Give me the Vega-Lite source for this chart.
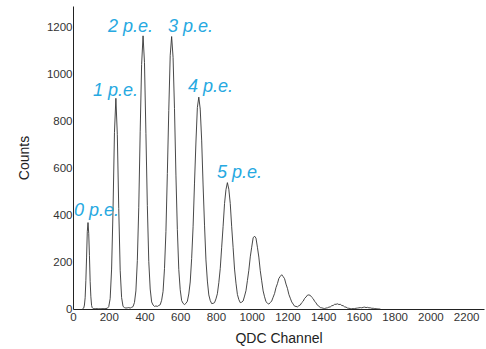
{
  "$schema": "https://vega.github.io/schema/vega-lite/v6.json",
  "autosize": {"type": "none"},
  "padding": {"left": 73, "top": 6, "right": 2, "bottom": 40},
  "width": 411,
  "height": 303,
  "background": "white",
  "config": {
    "view": {"stroke": null},
    "axis": {
      "grid": false,
      "ticks": false,
      "tickSize": 0,
      "domainColor": "#222222",
      "domainWidth": 1,
      "labelFont": "Liberation Sans",
      "labelFontSize": 11.5,
      "labelColor": "#333333",
      "labelOverlap": false,
      "labelSeparation": 0,
      "format": "d",
      "titleFont": "Liberation Sans",
      "titleFontSize": 14,
      "titleFontWeight": "normal",
      "titleColor": "#222222"
    }
  },
  "datasets": {
    "spectrum": [
      {"channel": 52, "counts": 0}, {"channel": 56, "counts": 1}, {"channel": 60, "counts": 4}, {"channel": 64, "counts": 17},
      {"channel": 68, "counts": 48}, {"channel": 72, "counts": 122}, {"channel": 76, "counts": 221}, {"channel": 80, "counts": 329},
      {"channel": 84, "counts": 368}, {"channel": 88, "counts": 322}, {"channel": 92, "counts": 227}, {"channel": 96, "counts": 118},
      {"channel": 100, "counts": 52}, {"channel": 104, "counts": 15}, {"channel": 108, "counts": 5}, {"channel": 112, "counts": 2},
      {"channel": 116, "counts": 1}, {"channel": 120, "counts": 2}, {"channel": 128, "counts": 1}, {"channel": 136, "counts": 2},
      {"channel": 144, "counts": 1}, {"channel": 152, "counts": 1}, {"channel": 160, "counts": 2}, {"channel": 168, "counts": 1},
      {"channel": 176, "counts": 2}, {"channel": 184, "counts": 2}, {"channel": 192, "counts": 3}, {"channel": 200, "counts": 10},
      {"channel": 208, "counts": 44}, {"channel": 216, "counts": 170}, {"channel": 224, "counts": 421}, {"channel": 232, "counts": 752},
      {"channel": 240, "counts": 897}, {"channel": 248, "counts": 742}, {"channel": 256, "counts": 428}, {"channel": 264, "counts": 165},
      {"channel": 272, "counts": 49}, {"channel": 280, "counts": 11}, {"channel": 288, "counts": 6}, {"channel": 296, "counts": 4},
      {"channel": 304, "counts": 5}, {"channel": 312, "counts": 6}, {"channel": 320, "counts": 4}, {"channel": 328, "counts": 7},
      {"channel": 336, "counts": 10}, {"channel": 344, "counts": 28}, {"channel": 352, "counts": 77}, {"channel": 360, "counts": 206},
      {"channel": 368, "counts": 431}, {"channel": 376, "counts": 757}, {"channel": 384, "counts": 1041}, {"channel": 392, "counts": 1163},
      {"channel": 400, "counts": 1050}, {"channel": 408, "counts": 748}, {"channel": 416, "counts": 440}, {"channel": 424, "counts": 203},
      {"channel": 432, "counts": 85}, {"channel": 440, "counts": 30}, {"channel": 448, "counts": 17}, {"channel": 456, "counts": 11},
      {"channel": 464, "counts": 13}, {"channel": 472, "counts": 11}, {"channel": 480, "counts": 15}, {"channel": 488, "counts": 18},
      {"channel": 496, "counts": 37}, {"channel": 504, "counts": 75}, {"channel": 512, "counts": 172}, {"channel": 520, "counts": 330},
      {"channel": 528, "counts": 577}, {"channel": 536, "counts": 845}, {"channel": 544, "counts": 1080}, {"channel": 552, "counts": 1160},
      {"channel": 560, "counts": 1071}, {"channel": 568, "counts": 853}, {"channel": 576, "counts": 570}, {"channel": 584, "counts": 338},
      {"channel": 592, "counts": 168}, {"channel": 600, "counts": 82}, {"channel": 608, "counts": 36}, {"channel": 616, "counts": 24},
      {"channel": 624, "counts": 19}, {"channel": 632, "counts": 24}, {"channel": 640, "counts": 33}, {"channel": 648, "counts": 64},
      {"channel": 656, "counts": 115}, {"channel": 664, "counts": 215}, {"channel": 672, "counts": 350}, {"channel": 680, "counts": 536},
      {"channel": 688, "counts": 711}, {"channel": 696, "counts": 858}, {"channel": 704, "counts": 902}, {"channel": 712, "counts": 851},
      {"channel": 720, "counts": 719}, {"channel": 728, "counts": 528}, {"channel": 736, "counts": 357}, {"channel": 744, "counts": 209},
      {"channel": 752, "counts": 119}, {"channel": 760, "counts": 60}, {"channel": 768, "counts": 36}, {"channel": 776, "counts": 23},
      {"channel": 784, "counts": 24}, {"channel": 792, "counts": 27}, {"channel": 800, "counts": 43}, {"channel": 808, "counts": 65},
      {"channel": 816, "counts": 112}, {"channel": 824, "counts": 172}, {"channel": 832, "counts": 263}, {"channel": 840, "counts": 352},
      {"channel": 848, "counts": 449}, {"channel": 856, "counts": 508}, {"channel": 864, "counts": 538}, {"channel": 872, "counts": 510},
      {"channel": 880, "counts": 449}, {"channel": 888, "counts": 350}, {"channel": 896, "counts": 261}, {"channel": 904, "counts": 170},
      {"channel": 912, "counts": 110}, {"channel": 920, "counts": 62}, {"channel": 928, "counts": 40}, {"channel": 936, "counts": 27},
      {"channel": 944, "counts": 29}, {"channel": 952, "counts": 34}, {"channel": 960, "counts": 55}, {"channel": 968, "counts": 78},
      {"channel": 976, "counts": 121}, {"channel": 984, "counts": 165}, {"channel": 992, "counts": 222}, {"channel": 1000, "counts": 263},
      {"channel": 1008, "counts": 303}, {"channel": 1016, "counts": 310}, {"channel": 1024, "counts": 302}, {"channel": 1032, "counts": 263},
      {"channel": 1040, "counts": 221}, {"channel": 1048, "counts": 163}, {"channel": 1056, "counts": 120}, {"channel": 1064, "counts": 77},
      {"channel": 1072, "counts": 52}, {"channel": 1080, "counts": 31}, {"channel": 1088, "counts": 25}, {"channel": 1096, "counts": 21},
      {"channel": 1104, "counts": 27}, {"channel": 1112, "counts": 34}, {"channel": 1120, "counts": 50}, {"channel": 1128, "counts": 66},
      {"channel": 1136, "counts": 91}, {"channel": 1144, "counts": 108}, {"channel": 1152, "counts": 130}, {"channel": 1160, "counts": 139},
      {"channel": 1168, "counts": 146}, {"channel": 1176, "counts": 138}, {"channel": 1184, "counts": 129}, {"channel": 1192, "counts": 106},
      {"channel": 1200, "counts": 88}, {"channel": 1208, "counts": 62}, {"channel": 1216, "counts": 46}, {"channel": 1224, "counts": 30},
      {"channel": 1232, "counts": 21}, {"channel": 1240, "counts": 12}, {"channel": 1248, "counts": 11}, {"channel": 1256, "counts": 9},
      {"channel": 1264, "counts": 14}, {"channel": 1272, "counts": 17}, {"channel": 1280, "counts": 27}, {"channel": 1288, "counts": 33},
      {"channel": 1296, "counts": 45}, {"channel": 1304, "counts": 51}, {"channel": 1312, "counts": 59}, {"channel": 1320, "counts": 60},
      {"channel": 1328, "counts": 58}, {"channel": 1336, "counts": 50}, {"channel": 1344, "counts": 44}, {"channel": 1352, "counts": 33},
      {"channel": 1360, "counts": 26}, {"channel": 1368, "counts": 16}, {"channel": 1376, "counts": 12}, {"channel": 1384, "counts": 6},
      {"channel": 1392, "counts": 5}, {"channel": 1400, "counts": 3}, {"channel": 1408, "counts": 2}, {"channel": 1416, "counts": 4},
      {"channel": 1424, "counts": 5}, {"channel": 1432, "counts": 8}, {"channel": 1440, "counts": 9}, {"channel": 1448, "counts": 14},
      {"channel": 1456, "counts": 15}, {"channel": 1464, "counts": 20}, {"channel": 1472, "counts": 20}, {"channel": 1480, "counts": 22},
      {"channel": 1488, "counts": 19}, {"channel": 1496, "counts": 20}, {"channel": 1504, "counts": 15}, {"channel": 1512, "counts": 14},
      {"channel": 1520, "counts": 9}, {"channel": 1528, "counts": 8}, {"channel": 1536, "counts": 4}, {"channel": 1544, "counts": 3},
      {"channel": 1552, "counts": 2}, {"channel": 1560, "counts": 1}, {"channel": 1568, "counts": 2}, {"channel": 1576, "counts": 2},
      {"channel": 1584, "counts": 3}, {"channel": 1592, "counts": 4}, {"channel": 1600, "counts": 5}, {"channel": 1608, "counts": 6},
      {"channel": 1616, "counts": 5}, {"channel": 1624, "counts": 7}, {"channel": 1632, "counts": 8}, {"channel": 1640, "counts": 6},
      {"channel": 1648, "counts": 7}, {"channel": 1656, "counts": 5}, {"channel": 1664, "counts": 5}, {"channel": 1672, "counts": 3},
      {"channel": 1680, "counts": 3}, {"channel": 1688, "counts": 2}, {"channel": 1696, "counts": 1}, {"channel": 1704, "counts": 1},
      {"channel": 1712, "counts": 0}, {"channel": 1720, "counts": 0}
    ],
    "labels": [
      {"label": "0 p.e.", "channel": 6, "counts": 398},
      {"label": "1 p.e.", "channel": 112, "counts": 908},
      {"label": "2 p.e.", "channel": 196, "counts": 1180},
      {"label": "3 p.e.", "channel": 532, "counts": 1180},
      {"label": "4 p.e.", "channel": 644, "counts": 925},
      {"label": "5 p.e.", "channel": 806, "counts": 556}
    ]
  },
  "layer": [
    {
      "data": {"name": "spectrum"},
      "mark": {"type": "line", "stroke": "#333333", "strokeWidth": 0.9, "interpolate": "linear"},
      "encoding": {
        "x": {
          "field": "channel", "type": "quantitative",
          "scale": {"domain": [0, 2300], "nice": false},
          "axis": {"title": "QDC Channel", "format": "d", "labelOverlap": false, "labelSeparation": 0, "values": [0, 200, 400, 600, 800, 1000, 1200, 1400, 1600, 1800, 2000, 2200], "labelPadding": 2, "labelFlush": false, "titlePadding": 9}
        },
        "y": {
          "field": "counts", "type": "quantitative",
          "scale": {"domain": [0, 1290], "nice": false},
          "axis": {"title": "Counts", "format": "d", "labelOverlap": false, "values": [0, 200, 400, 600, 800, 1000, 1200], "labelPadding": 1, "titlePadding": 15}
        }
      }
    },
    {
      "data": {"name": "labels"},
      "mark": {"type": "text", "align": "left", "baseline": "alphabetic", "font": "Liberation Sans", "fontSize": 18, "fontStyle": "italic", "color": "#27a9e1"},
      "encoding": {
        "x": {
          "field": "channel", "type": "quantitative",
          "axis": {"title": "QDC Channel", "format": "d", "labelOverlap": false, "labelSeparation": 0, "values": [0, 200, 400, 600, 800, 1000, 1200, 1400, 1600, 1800, 2000, 2200], "labelPadding": 2, "labelFlush": false, "titlePadding": 9}
        },
        "y": {
          "field": "counts", "type": "quantitative",
          "axis": {"title": "Counts", "format": "d", "labelOverlap": false, "values": [0, 200, 400, 600, 800, 1000, 1200], "labelPadding": 1, "titlePadding": 15}
        },
        "text": {"field": "label"}
      }
    }
  ]
}
